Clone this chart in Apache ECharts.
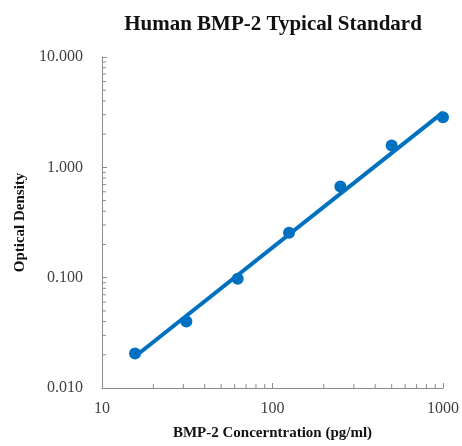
<!DOCTYPE html>
<html>
<head>
<meta charset="utf-8">
<script src="https://cdn.jsdelivr.net/npm/echarts@6/dist/echarts.min.js"></script>
<style>html,body{margin:0;padding:0;background:#fff;}#c{width:462px;height:446px;}</style>
</head>
<body>
<div id="c"></div>
<script>
// Data
var concentration = [15.625, 31.25, 62.5, 125, 250, 500, 1000];
var opticalDensity = [0.0205, 0.040, 0.098, 0.255, 0.67, 1.58, 2.84];
// trendline endpoints (power fit)
var fitX = [15.625, 1000];
var fitY = [0.0193, 3.15];
var xMinorTicks = [20, 30, 40, 50, 60, 70, 80, 90, 200, 300, 400, 500, 600, 700, 800, 900];
var yMinorTicks = [0.02, 0.03, 0.04, 0.05, 0.06, 0.07, 0.08, 0.09, 0.2, 0.3, 0.4, 0.5, 0.6, 0.7, 0.8, 0.9, 2, 3, 4, 5, 6, 7, 8, 9];

var serif = '"Liberation Serif", "DejaVu Serif", serif';
var blue = '#0070C0';
var axisColor = '#8c8c8c';

var chart = echarts.init(document.getElementById('c'), null, {renderer: 'canvas'});

function tickSeries(vals, isX) {
  return {
    type: 'custom',
    silent: true,
    clip: false,
    z: 1,
    data: vals.map(function (v) { return isX ? [v, 0.01] : [10, v]; }),
    renderItem: function (params, api) {
      var p = api.coord([api.value(0), api.value(1)]);
      var shape = isX ? {x1: p[0], y1: p[1], x2: p[0], y2: p[1] - 4}
                      : {x1: p[0], y1: p[1], x2: p[0] + 4, y2: p[1]};
      return {type: 'line', shape: shape, style: {stroke: axisColor, lineWidth: 1}};
    }
  };
}

var option = {
  backgroundColor: '#fff',
  animation: false,
  title: {
    text: 'Human BMP-2 Typical Standard',
    left: 268, top: 9, textAlign: 'center',
    textStyle: {fontFamily: serif, fontWeight: 'bold', fontSize: 21, color: '#111'}
  },
  grid: {left: 102, right: 17, top: 57, bottom: 54},
  xAxis: {
    type: 'log', logBase: 10, min: 10, max: 1000,
    name: 'BMP-2 Concerntration (pg/ml)',
    nameLocation: 'middle', nameGap: 38,
    nameTextStyle: {fontFamily: serif, fontWeight: 'bold', fontSize: 15, color: '#111'},
    axisLine: {show: true, lineStyle: {color: axisColor, width: 1}},
    axisTick: {show: true, inside: true, length: 5, lineStyle: {color: axisColor}},
    axisLabel: {fontFamily: serif, fontSize: 16, color: '#404040', margin: 13,
      formatter: function (v) { return String(Math.round(v)); }},
    splitLine: {show: false}
  },
  yAxis: {
    type: 'log', logBase: 10, min: 0.01, max: 10,
    name: 'Optical Density',
    nameLocation: 'middle', nameGap: 74,
    nameTextStyle: {fontFamily: serif, fontWeight: 'bold', fontSize: 15, color: '#111'},
    axisLine: {show: true, lineStyle: {color: axisColor, width: 1}},
    axisTick: {show: true, inside: true, length: 5, lineStyle: {color: axisColor}},
    axisLabel: {fontFamily: serif, fontSize: 16, color: '#404040', margin: 19,
      formatter: function (v) { return Number(v).toFixed(3); }},
    splitLine: {show: false}
  },
  series: [
    tickSeries(xMinorTicks, true),
    tickSeries(yMinorTicks, false),
    {
      type: 'scatter',
      data: concentration.map(function (x, i) { return [x, opticalDensity[i]]; }),
      symbol: 'circle', symbolSize: 12,
      itemStyle: {color: blue, opacity: 1},
      z: 3
    },
    {
      type: 'line',
      data: fitX.map(function (x, i) { return [x, fitY[i]]; }),
      showSymbol: false, symbol: 'none',
      lineStyle: {color: blue, width: 4},
      z: 4
    }
  ]
};
chart.setOption(option);
</script>
</body>
</html>
